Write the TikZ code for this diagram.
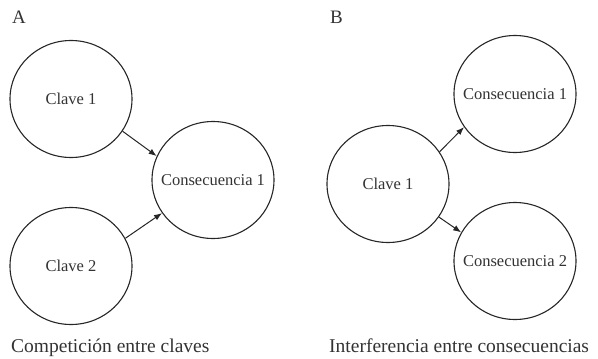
\documentclass[tikz,border=0pt]{standalone}
\usepackage{fontspec}
\setmainfont{Liberation Serif}
\usetikzlibrary{shapes.geometric,arrows.meta}
\newcommand{\zbox}[1]{\makebox[0pt][c]{#1}}
\begin{document}
\begin{tikzpicture}[x=1pt,y=-1pt,
  circ/.style={draw=black!85,line width=1.1pt,ellipse,minimum width=122pt,minimum height=117pt,inner sep=0pt,
    font=\fontsize{16.5}{18}\selectfont,text=black!80},
  arr/.style={draw=black!85,line width=1pt,-{Latex[length=8pt,width=6pt]}},
  panel/.style={font=\fontsize{19}{22}\selectfont,text=black!80,anchor=base west,inner sep=0pt},
  caption/.style={font=\fontsize{19.5}{22}\selectfont,text=black!80,anchor=base west,inner sep=0pt}]
\useasboundingbox (0,0) rectangle (598,359);
% Panel A
\node[panel] (labA) at (12,23) {A};
\node[circ] (a1) at (71,99) {\zbox{Clave 1}};
\node[circ] (a2) at (71,266) {\zbox{Clave 2}};
\node[circ] (ac) at (213,180) {\zbox{Consecuencia 1}};
\draw[arr] (a1.-32) -- (ac.157);
\draw[arr] (a2.27) -- (ac.-147);
\node[caption] (capA) at (11,352) {Competición entre claves};
% Panel B
\node[panel] (labB) at (330,23) {B};
\node[circ] (b1) at (388,184) {\zbox{Clave 1}};
\node[circ] (bc1) at (515,94) {\zbox{Consecuencia 1}};
\node[circ] (bc2) at (515,261) {\zbox{Consecuencia 2}};
\draw[arr] (b1.32) -- (bc1.-147);
\draw[arr] (b1.-33) -- (bc2.152);
\node[caption] (capB) at (329,352) {Interferencia entre consecuencias};
\end{tikzpicture}
\end{document}
